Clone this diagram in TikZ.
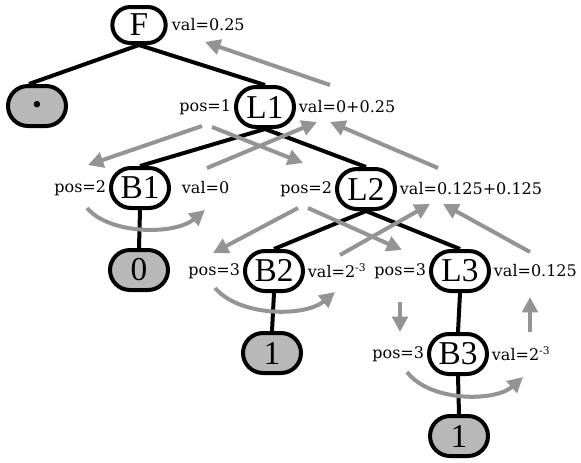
\documentclass[tikz,border=0pt]{standalone}
\usepackage{fontspec}
\setmainfont{DejaVu Serif}
\newfontfamily\nodefont{Liberation Serif}
\usetikzlibrary{arrows.meta}
\begin{document}
\begin{tikzpicture}[x=0.75pt,y=-0.75pt,
  tnode/.style={draw, line width=3pt, rounded corners=15pt, minimum width=43.5pt,
    minimum height=30pt, inner sep=0pt, font=\nodefont\fontsize{25}{28}\selectfont},
  leaf/.style={tnode, fill=black!28},
  lbl/.style={font=\fontsize{12}{14}\selectfont, inner sep=0pt},
  edge/.style={line width=3pt},
  flow/.style={draw=black!42, line width=3pt, -{Triangle[length=11.5pt,width=11.5pt]}}]
\useasboundingbox (0,0) rectangle (581,462);
% tree nodes
\node[tnode, minimum width=40pt, minimum height=27pt, rounded corners=13.5pt] (F) at (139,25) {F};
\node[leaf] (dot) at (37,106) {};
\node[font=\nodefont\fontsize{20}{20}\selectfont, inner sep=0pt] (dotc) at (37,107) {•};
\node[tnode] (L1) at (265,107) {L1};
\node[tnode] (B1) at (140,188) {B1};
\node[leaf] (z0) at (139,270) {0};
\node[tnode] (L2) at (366,189) {L2};
\node[tnode] (B2) at (274,271) {B2};
\node[leaf] (o1) at (272,353) {1};
\node[tnode] (L3) at (460,271) {L3};
\node[tnode] (B3) at (458,354) {B3};
\node[leaf] (o2) at (459,436) {1};
% edges
\draw[edge] (F.south) -- (dot.110);
\draw[edge] (F.south) -- (L1.north);
\draw[edge] (L1.south) -- (B1.north);
\draw[edge] (L1.south) -- (L2.north);
\draw[edge] (B1.south) -- (z0.north);
\draw[edge] (L2.south) -- (B2.north);
\draw[edge] (L2.south) -- (L3.north);
\draw[edge] (B2.south) -- (o1.north);
\draw[edge] (L3.south) -- (B3.north);
\draw[edge] (B3.south) -- (o2.north);
% labels
\node[lbl, anchor=west] (vF) at ([xshift=3pt]F.east) {val=0.25};
\node[lbl, anchor=east] (pL1) at ([xshift=-2pt]L1.west) {pos=1};
\node[lbl, anchor=west] (vL1) at ([xshift=2pt]L1.east) {val=0+0.25};
\node[lbl, anchor=east] (pB1) at ([xshift=-2pt]B1.west) {pos=2};
\node[lbl, anchor=west] (vB1) at ([xshift=8pt]B1.east) {val=0};
\node[lbl, anchor=east] (pL2) at ([xshift=-2pt]L2.west) {pos=2};
\node[lbl, anchor=west] (vL2) at ([xshift=2pt]L2.east) {val=0.125+0.125};
\node[lbl, anchor=east] (pB2) at ([xshift=-2pt]B2.west) {pos=3};
\node[lbl, anchor=west] (vB2) at ([xshift=2pt]B2.east) {val=2\textsuperscript{-3}};
\node[lbl, anchor=east] (pL3) at ([xshift=-2pt]L3.west) {pos=3};
\node[lbl, anchor=west] (vL3) at ([xshift=2pt]L3.east) {val=0.125};
\node[lbl, anchor=east] (pB3) at ([xshift=-2pt]B3.west) {pos=3};
\node[lbl, anchor=west] (vB3) at ([xshift=2pt]B3.east) {val=2\textsuperscript{-3}};
% flow arrow end points
\coordinate (a1s) at (330,85);  \coordinate (a1e) at (205,42);
\coordinate (a2s) at (202,126); \coordinate (a2e) at (88,165);
\coordinate (a3s) at (212,127); \coordinate (a3e) at (303,163);
\coordinate (a4s) at (207,168); \coordinate (a4e) at (317,122);
\coordinate (a5s) at (438,168); \coordinate (a5e) at (330,122);
\coordinate (a6s) at (87,208);  \coordinate (a6e) at (205,210);
\coordinate (a7s) at (298,208); \coordinate (a7e) at (213,253);
\coordinate (a8s) at (308,208); \coordinate (a8e) at (402,250);
\coordinate (a9s) at (340,255); \coordinate (a9e) at (430,204);
\coordinate (a10s) at (530,252); \coordinate (a10e) at (443,204);
\coordinate (a11s) at (215,288); \coordinate (a11e) at (335,292);
\coordinate (a12s) at (400,302); \coordinate (a12e) at (400,332);
\coordinate (a13s) at (530,332); \coordinate (a13e) at (530,297);
\coordinate (a14s) at (407,372); \coordinate (a14e) at (523,377);
% flow arrows
\draw[flow] (a1s) -- (a1e);
\draw[flow] (a2s) -- (a2e);
\draw[flow] (a3s) -- (a3e);
\draw[flow] (a4s) -- (a4e);
\draw[flow] (a5s) -- (a5e);
\draw[flow] (a6s) .. controls (110,235) and (175,235) .. (a6e);
\draw[flow] (a7s) -- (a7e);
\draw[flow] (a8s) -- (a8e);
\draw[flow] (a9s) -- (a9e);
\draw[flow] (a10s) -- (a10e);
\draw[flow] (a11s) .. controls (240,317) and (305,317) .. (a11e);
\draw[flow] (a12s) -- (a12e);
\draw[flow] (a13s) -- (a13e);
\draw[flow] (a14s) .. controls (430,402) and (495,402) .. (a14e);
\end{tikzpicture}
\end{document}
